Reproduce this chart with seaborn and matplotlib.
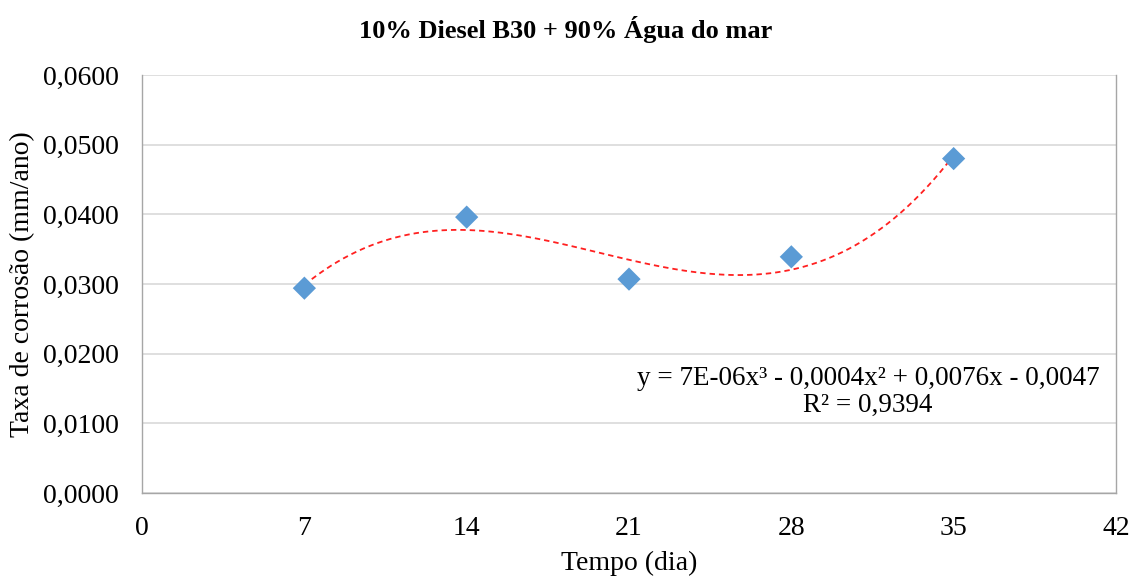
import numpy as np
import pandas as pd
import matplotlib
matplotlib.use("Agg")
import matplotlib.pyplot as plt
import seaborn as sns
from matplotlib.ticker import FuncFormatter

# Data
dias = [7, 14, 21, 28, 35]
taxa = [0.0294, 0.0396, 0.0307, 0.0339, 0.0480]
x_ticks = [0, 7, 14, 21, 28, 35, 42]
y_ticks = [0.0, 0.01, 0.02, 0.03, 0.04, 0.05, 0.06]
titulo = "10% Diesel B30 + 90% Água do mar"
eq_text = "y = 7E-06x³ - 0,0004x² + 0,0076x - 0,0047\nR² = 0,9394"

sns.set_style("white")
plt.rcParams['font.family'] = ['Liberation Serif', 'DejaVu Serif']
plt.rcParams['text.color'] = 'black'
plt.rcParams['axes.labelcolor'] = 'black'
plt.rcParams['xtick.color'] = 'black'
plt.rcParams['ytick.color'] = 'black'

df = pd.DataFrame({"Tempo": dias, "Taxa": taxa})

fig = plt.figure(figsize=(11.31, 5.76), dpi=100)
ax = fig.add_axes([0.1256, 0.1441, 0.8611, 0.7257])

sns.regplot(data=df, x="Tempo", y="Taxa", order=3, ci=None, scatter=False,
            truncate=True, ax=ax,
            line_kws=dict(color="#ff2020", lw=1.3, ls=(0, (3, 2.2))))
sns.scatterplot(data=df, x="Tempo", y="Taxa", marker="D", s=140,
                color="#5b9bd5", edgecolor="none", ax=ax, zorder=3)

ax.set_xlim(0, 42)
ax.set_ylim(0, 0.06)
ax.set_xticks(x_ticks)
ax.set_yticks(y_ticks)
ax.yaxis.set_major_formatter(FuncFormatter(lambda v, p: f"{v:.4f}".replace(".", ",")))
ax.grid(axis="y", color="#d9d9d9", lw=1.2)
ax.set_axisbelow(True)
for side in ["left", "bottom", "right"]:
    ax.spines[side].set_color("#a6a6a6")
    ax.spines[side].set_linewidth(1.0)
ax.spines["top"].set_visible(False)
ax.tick_params(axis="both", direction="out", length=6.5, color="#a6a6a6",
               labelsize=20, labelcolor="black")
ax.tick_params(axis="y", pad=10)
ax.tick_params(axis="x", pad=10)

ax.set_xlabel("Tempo (dia)", fontsize=20, labelpad=7)
ax.set_ylabel("Taxa de corrosão (mm/ano)", fontsize=20, labelpad=6)
fig.text(0.5, 0.948, titulo, fontsize=19, fontweight="bold",
         ha="center", va="center")

ax.text(31.3, 0.0145, eq_text, ha="center", va="center", fontsize=19.5,
        multialignment="center", linespacing=1.08)

fig.savefig("out.png", dpi=100)
